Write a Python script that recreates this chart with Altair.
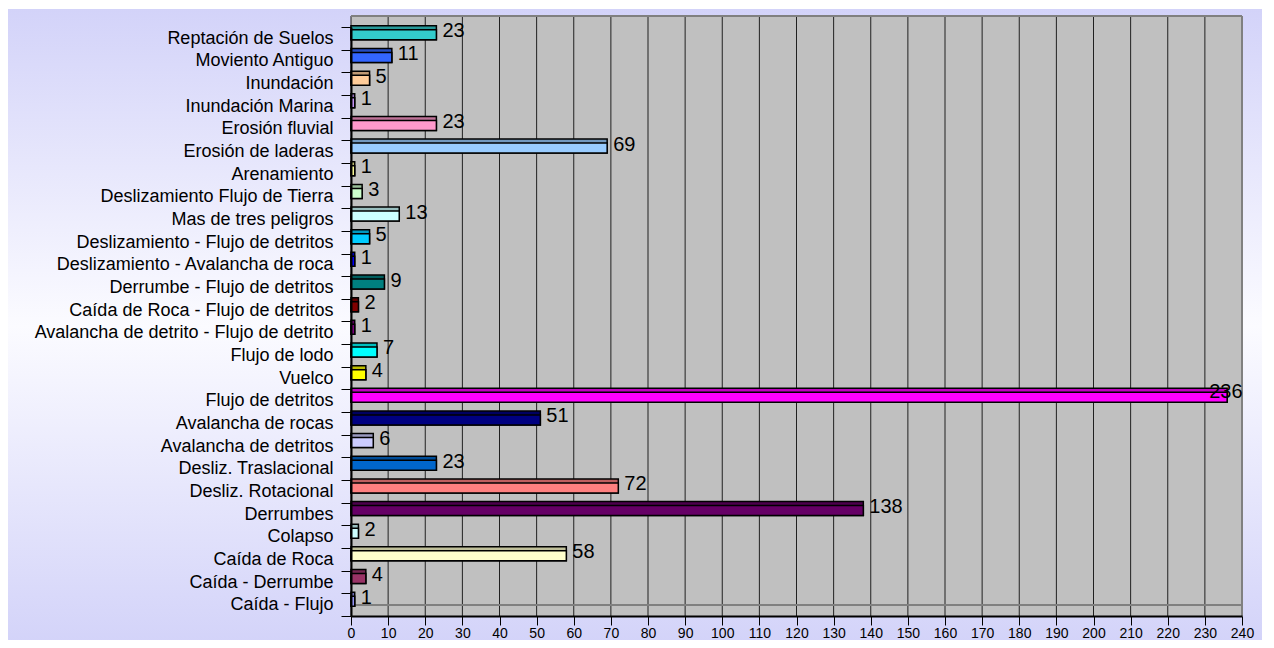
import altair as alt
import pandas as pd

categories = [
    "Reptación de Suelos", "Moviento Antiguo", "Inundación", "Inundación Marina",
    "Erosión fluvial", "Erosión de laderas", "Arenamiento", "Deslizamiento Flujo de Tierra",
    "Mas de tres peligros", "Deslizamiento - Flujo de detritos",
    "Deslizamiento - Avalancha de roca", "Derrumbe - Flujo de detritos",
    "Caída de Roca - Flujo de detritos", "Avalancha de detrito - Flujo de detrito",
    "Flujo de lodo", "Vuelco", "Flujo de detritos", "Avalancha de rocas",
    "Avalancha de detritos", "Desliz. Traslacional", "Desliz. Rotacional", "Derrumbes",
    "Colapso", "Caída de Roca", "Caída - Derrumbe", "Caída - Flujo",
]
values = [23, 11, 5, 1, 23, 69, 1, 3, 13, 5, 1, 9, 2, 1, 7, 4, 236, 51, 6, 23, 72, 138, 2, 58, 4, 1]
front_colors = [
    "#33CCCC", "#3366FF", "#FFCC99", "#CC99FF", "#FF99CC", "#99CCFF", "#FFFF99", "#CCFFCC",
    "#CCFFFF", "#00CCFF", "#0000FF", "#008080", "#800000", "#800080", "#00FFFF", "#FFFF00",
    "#FF00FF", "#000080", "#CCCCFF", "#0066CC", "#FF8080", "#660066", "#CCFFFF", "#FFFFCC",
    "#993366", "#9999FF",
]
top_colors = [
    "#269999", "#264DBF", "#BF9973", "#9973BF", "#BF7399", "#7399BF", "#BFBF73", "#99BF99",
    "#99BFBF", "#0099BF", "#0000BF", "#006060", "#600000", "#600060", "#00BFBF", "#BFBF00",
    "#BF00BF", "#000060", "#9999BF", "#004D99", "#BF6060", "#4D004D", "#99BFBF", "#BFBF99",
    "#732650", "#7373BF",
]
x_ticks = list(range(0, 250, 10))

W, H = 891, 589
df = pd.DataFrame({"cat": categories, "val": values, "front": front_colors, "top": top_colors})
ticks_df = pd.DataFrame({"val": x_ticks})
one = pd.DataFrame({"a": [0]})

xscale = alt.Scale(domain=[0, 240], nice=False, zero=True)
yscale = alt.Scale(paddingInner=0, paddingOuter=0)
FONT = "Liberation Sans"

xaxis = alt.Axis(
    values=x_ticks, tickSize=9, tickColor="black", domainColor="black",
    labelFontSize=14, labelFont=FONT, labelColor="black", labelPadding=1,
    grid=False, domainWidth=2, zindex=1, labelOverlap=False, labelFlush=False,
)
yaxis = alt.Axis(
    labelFontSize=18, labelFont=FONT, labelColor="black", tickBand="extent",
    tickSize=10, tickColor="black", domainColor="black", labelPadding=8,
    labelLimit=400, ticks=True, grid=False, zindex=1, domainWidth=2,
    labelOverlap=False,
)
xenc = alt.X("val:Q", scale=xscale, title=None, axis=xaxis)
yenc = alt.Y("cat:N", sort=categories, scale=yscale, title=None, axis=yaxis)

grad = alt.LinearGradient(
    gradient="linear",
    stops=[
        alt.GradientStop(color="#D3D3F9", offset=0),
        alt.GradientStop(color="#FBFBFF", offset=0.5),
        alt.GradientStop(color="#D3D3F9", offset=1),
    ],
    x1=0, x2=0, y1=0, y2=1,
)

bg = alt.Chart(one).mark_rect(color=grad).encode(
    x=alt.value(-345), x2=alt.value(917), y=alt.value(-18), y2=alt.value(616)
)
wall = alt.Chart(one).mark_rect(color="#C0C0C0").encode(
    x=alt.value(0), x2=alt.value(W), y=alt.value(-11), y2=alt.value(H)
)
grid = alt.Chart(ticks_df).mark_rule(color="#202020", strokeWidth=1).encode(
    x=xenc, y=alt.value(-11), y2=alt.value(H)
)
border_top = alt.Chart(one).mark_rule(color="#808080", strokeWidth=2).encode(
    x=alt.value(0), x2=alt.value(W), y=alt.value(-11)
)
border_right = alt.Chart(one).mark_rule(color="#808080", strokeWidth=2).encode(
    x=alt.value(W), y=alt.value(-11), y2=alt.value(H)
)
floor = alt.Chart(one).mark_rule(color="#808080", strokeWidth=2).encode(
    x=alt.value(0), x2=alt.value(W), y=alt.value(H - 11)
)

bars_top = alt.Chart(df).mark_bar(size=14, stroke="black", strokeWidth=1.5, yOffset=-5.5).encode(
    x=xenc, y=yenc, color=alt.Color("top:N", scale=None)
)
bars_front = alt.Chart(df).mark_bar(size=10, stroke="black", strokeWidth=1.5, yOffset=-3.5).encode(
    x=xenc, y=yenc, color=alt.Color("front:N", scale=None)
)
labels = alt.Chart(df).transform_filter(alt.datum.val <= 200).mark_text(
    align="left", baseline="middle", dx=6, yOffset=-7, fontSize=20, font=FONT, color="black"
).encode(x=xenc, y=yenc, text="val:Q")
labels_big = alt.Chart(df).transform_filter(alt.datum.val > 200).mark_text(
    align="left", baseline="middle", dx=-18, yOffset=-9, fontSize=20, font=FONT, color="black"
).encode(x=xenc, y=yenc, text="val:Q")

chart = alt.layer(
    bg, wall, grid, border_top, border_right, floor, bars_top, bars_front, labels, labels_big
).properties(
    width=W, height=H,
    autosize=alt.AutoSizeParams(type="none"),
    padding={"left": 343, "top": 19, "right": 20, "bottom": 24},
    background="white",
).configure_view(stroke=None)

chart.save("out.html", embed_options={"renderer": "svg", "actions": False})
